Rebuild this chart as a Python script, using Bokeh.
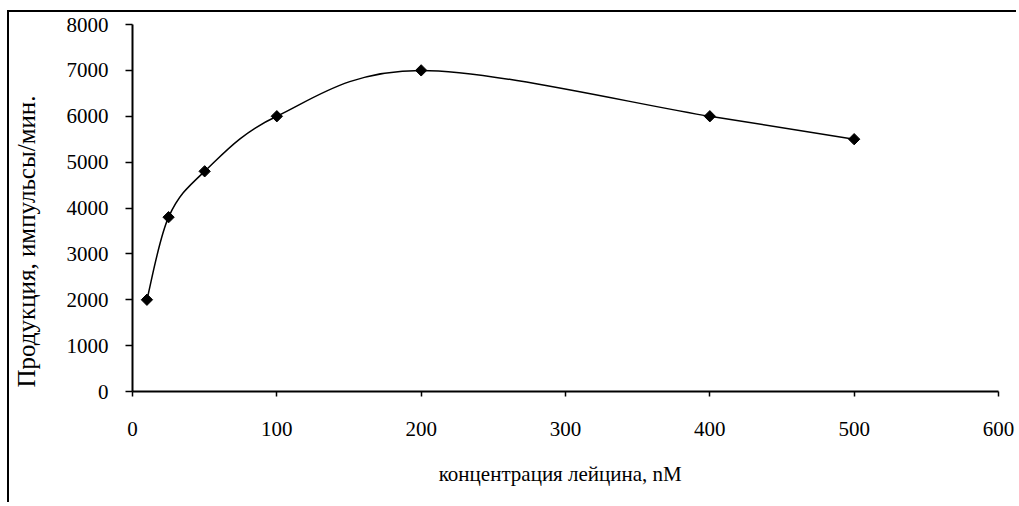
import numpy as np
from bokeh.plotting import figure
from bokeh.models import Range1d, FixedTicker, Title
from bokeh.embed import file_html
from bokeh.resources import INLINE

# data
conc = [10, 25, 50, 100, 200, 400, 500]
production = [2000, 3800, 4800, 6000, 7000, 6000, 5500]
x_ticks = [0, 100, 200, 300, 400, 500, 600]
y_ticks = [0, 1000, 2000, 3000, 4000, 5000, 6000, 7000, 8000]
x_title = "концентрация  лейцина,  nM"
y_title = "Продукция, импульсы/мин."

FONT = "Liberation Serif"
FS = "21px"

p = figure(width=1009, height=492, output_backend="svg", toolbar_location=None,
           x_range=Range1d(0, 600), y_range=Range1d(0, 8000),
           min_border_left=121, min_border_right=20, min_border_top=12, min_border_bottom=113,
           styles={"border-left": "2px solid black", "border-top": "2px solid black",
                   "margin-left": "7px", "margin-top": "10px"})
p.outline_line_color = None
p.grid.visible = False
p.background_fill_color = "white"
p.border_fill_color = "white"

for ax, ticks in ((p.xaxis, x_ticks), (p.yaxis, y_ticks)):
    ax.ticker = FixedTicker(ticks=ticks)
    ax.minor_tick_line_color = None
    ax.major_tick_in = 0
    ax.axis_line_width = 2
    ax.axis_line_color = "black"
    ax.major_tick_line_width = 1.5
    ax.major_tick_line_color = "black"
    ax.major_label_text_font = FONT
    ax.major_label_text_font_size = FS
    ax.major_label_text_color = "black"

p.yaxis.major_tick_out = 7
p.yaxis.major_label_standoff = 17
p.xaxis.major_tick_out = 5
p.xaxis.major_label_standoff = 25

p.xaxis.axis_label = x_title
p.xaxis.axis_label_text_font = FONT
p.xaxis.axis_label_text_font_style = "normal"
p.xaxis.axis_label_text_font_size = FS
p.xaxis.axis_label_text_color = "black"
p.xaxis.axis_label_standoff = 23

# blank spacer label on the y axis so the title sits further out
p.yaxis.axis_label = " "
p.yaxis.axis_label_text_font_size = "1px"
p.yaxis.axis_label_standoff = 19

# y title on the left, anchored near the bottom like the original
p.add_layout(Title(text=y_title, align="left", offset=4, standoff=2,
                   text_font=FONT, text_font_size="25px", text_font_style="normal",
                   text_color="black"), "left")

# smoothed curve (Catmull-Rom style bezier through the points)
x = np.array(conc, dtype=float)
y = np.array(production, dtype=float)
n = len(x)
xp = np.concatenate([[x[0]], x, [x[-1]]])
yp = np.concatenate([[y[0]], y, [y[-1]]])
cx0 = x[:-1] + (xp[2:n + 1] - xp[0:n - 1]) / 6
cy0 = y[:-1] + (yp[2:n + 1] - yp[0:n - 1]) / 6
cx1 = x[1:] - (xp[3:n + 2] - xp[1:n]) / 6
cy1 = y[1:] - (yp[3:n + 2] - yp[1:n]) / 6
p.bezier(x0=x[:-1], y0=y[:-1], x1=x[1:], y1=y[1:], cx0=cx0, cy0=cy0, cx1=cx1, cy1=cy1,
         line_color="black", line_width=1.5)

p.scatter(conc, production, marker="square", angle=np.pi / 4, size=8,
          fill_color="black", line_color="black")

open("out.html", "w").write(file_html(p, INLINE))
